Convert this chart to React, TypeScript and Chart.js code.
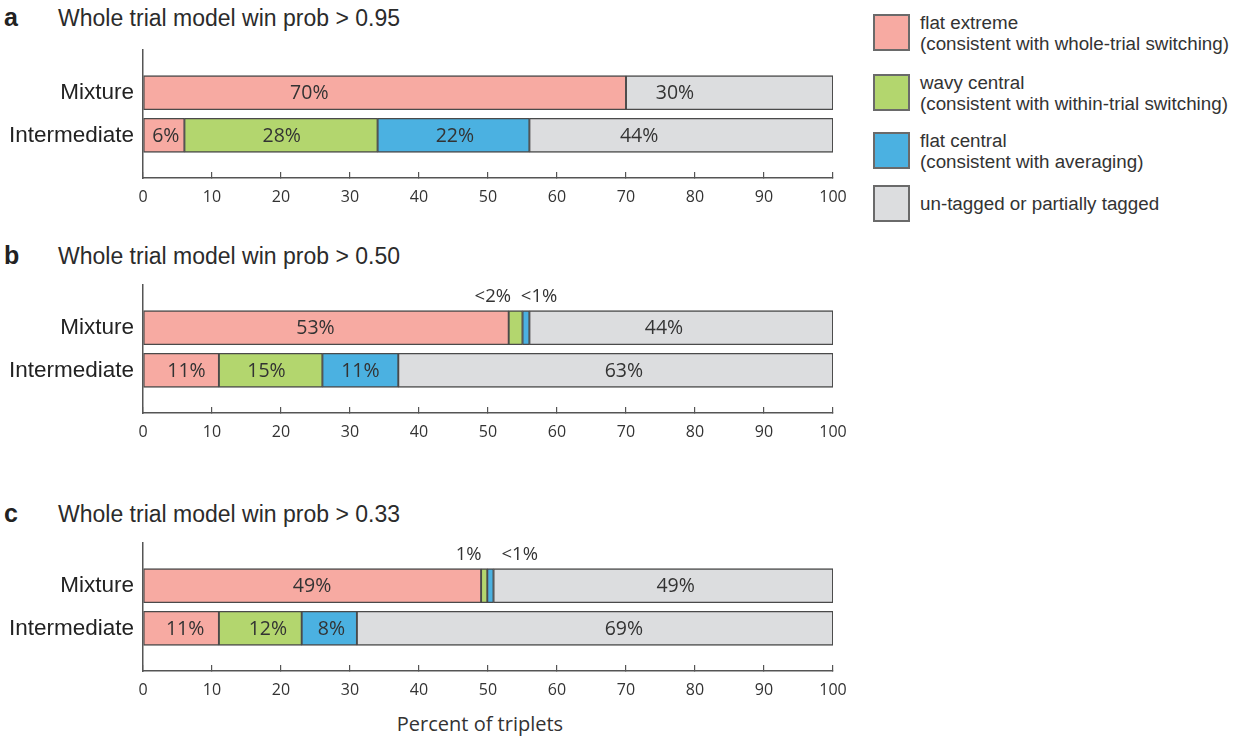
import React, { useEffect, useRef } from 'react';
import { Chart, registerables } from 'chart.js';

Chart.register(...registerables);

// ---------- data ----------
const categories = ['Mixture', 'Intermediate'];
const seriesNames = ['flat extreme', 'wavy central', 'flat central', 'un-tagged or partially tagged'];
const seriesNotes = [
  '(consistent with whole-trial switching)',
  '(consistent with within-trial switching)',
  '(consistent with averaging)',
  '',
];
const seriesColors = ['#F7AAA2', '#B3D66E', '#4BB1E1', '#DCDDDF'];

const panelLetters = ['a', 'b', 'c'];
const panelTitles = [
  'Whole trial model win prob > 0.95',
  'Whole trial model win prob > 0.50',
  'Whole trial model win prob > 0.33',
];

const xTickMin = 0;
const xTickMax = 100;
const xTickStep = 10;
const xAxisTitle = 'Percent of triplets';

// percent of triplets per series: [flat extreme, wavy central, flat central, un-tagged]
const panelAMixture = [70, 0, 0, 30];
const panelAIntermediate = [6, 28, 22, 44];
const panelBMixture = [53, 2, 1, 44];
const panelBIntermediate = [11, 15, 11, 63];
const panelCMixture = [49, 0.9, 0.9, 49.2];
const panelCIntermediate = [11, 12, 8, 69];

// text printed in each segment
const panelAMixtureLabels = ['70%', '', '', '30%'];
const panelAIntermediateLabels = ['6%', '28%', '22%', '44%'];
const panelBMixtureLabels = ['53%', '', '', '44%'];
const panelBIntermediateLabels = ['11%', '15%', '11%', '63%'];
const panelCMixtureLabels = ['49%', '', '', '49%'];
const panelCIntermediateLabels = ['11%', '12%', '8%', '69%'];

// where (in percent) each segment label is anchored
const panelAMixtureLabelAt = [24.1, null, null, 77.1];
const panelAIntermediateLabelAt = [3.3, 20.1, 45.2, 71.9];
const panelBMixtureLabelAt = [25, null, null, 75.5];
const panelBIntermediateLabelAt = [6.3, 17.9, 31.5, 69.7];
const panelCMixtureLabelAt = [24.5, null, null, 77.2];
const panelCIntermediateLabelAt = [6.1, 18.1, 27.3, 69.7];

// call-outs above the Mixture bar (text, anchor in percent)
const panelACallouts: { text: string; at: number }[] = [];
const panelBCallouts = [
  { text: '<2%', at: 50.7 },
  { text: '<1%', at: 57.4 },
];
const panelCCallouts = [
  { text: '1%', at: 47.2 },
  { text: '<1%', at: 54.6 },
];

const panels = [
  {
    rows: [panelAMixture, panelAIntermediate],
    labels: [panelAMixtureLabels, panelAIntermediateLabels],
    labelAt: [panelAMixtureLabelAt, panelAIntermediateLabelAt],
    callouts: panelACallouts,
  },
  {
    rows: [panelBMixture, panelBIntermediate],
    labels: [panelBMixtureLabels, panelBIntermediateLabels],
    labelAt: [panelBMixtureLabelAt, panelBIntermediateLabelAt],
    callouts: panelBCallouts,
  },
  {
    rows: [panelCMixture, panelCIntermediate],
    labels: [panelCMixtureLabels, panelCIntermediateLabels],
    labelAt: [panelCMixtureLabelAt, panelCIntermediateLabelAt],
    callouts: panelCCallouts,
  },
];

// ---------- layout ----------
const CANVAS_W = 860;
const CANVAS_H = 175;
const PAD_TOP = 10;
const PLOT_H = 128;
const AXIS_LEFT = 143;
const AXIS_RIGHT = 833;
const panelCanvasTops = [40, 275, 533];
const titleBaselines = [26, 264, 522];

const TEXT = '#2b2b2b';
const AXIS = '#555555';
const BAR_BORDER = '#4a4a4a';

function Panel({ index }: { index: number }) {
  const ref = useRef<HTMLCanvasElement | null>(null);
  useEffect(() => {
    const p = panels[index];
    const labels = ['', ...categories, ''];
    const datasets = seriesNames.map((name, s) => ({
      label: name,
      data: [null, ...p.rows.map((r) => (r[s] ? r[s] : null)), null],
      backgroundColor: seriesColors[s],
      borderColor: BAR_BORDER,
      borderWidth: 1.3,
      borderSkipped: false as const,
      barThickness: 34,
    }));

    const segLabels = {
      id: 'segLabels',
      afterDatasetsDraw(chart: any) {
        const ctx = chart.ctx;
        const xs = chart.scales.x;
        const ys = chart.scales.y;
        ctx.save();
        ctx.fillStyle = '#333333';
        ctx.textAlign = 'center';
        ctx.textBaseline = 'middle';
        ctx.font = '19.5px "Open Sans"';
        p.labels.forEach((row, c) => {
          const yPix = ys.getPixelForValue(c + 1);
          row.forEach((t, s) => {
            const at = p.labelAt[c][s];
            if (!t || at == null) return;
            ctx.fillText(t, xs.getPixelForValue(at), yPix + 1);
          });
        });
        ctx.font = '18.5px "Open Sans"';
        const yMix = ys.getPixelForValue(1);
        p.callouts.forEach((co) => {
          ctx.fillText(co.text, xs.getPixelForValue(co.at), yMix - 31);
        });
        ctx.restore();
      },
    };

    const chart = new Chart(ref.current as HTMLCanvasElement, {
      type: 'bar',
      data: { labels, datasets: datasets as any },
      options: {
        indexAxis: 'y',
        responsive: false,
        maintainAspectRatio: false,
        animation: false,
        layout: { padding: { top: PAD_TOP, right: CANVAS_W - AXIS_RIGHT, left: 0, bottom: 0 } },
        plugins: { legend: { display: false }, tooltip: { enabled: false } },
        scales: {
          x: {
            type: 'linear',
            min: xTickMin,
            max: xTickMax,
            stacked: true,
            ticks: {
              stepSize: xTickStep,
              font: { family: 'Open Sans', size: 16 },
              color: '#333333',
              padding: 16,
            },
            grid: {
              drawOnChartArea: false,
              drawTicks: true,
              tickLength: -6,
              color: AXIS,
              lineWidth: 1.2,
            },
            border: { color: AXIS, width: 1.5 },
            afterFit: (s: any) => {
              s.height = CANVAS_H - PAD_TOP - PLOT_H;
              s.paddingLeft = 0;
              s.paddingRight = 0;
            },
          },
          y: {
            type: 'category',
            stacked: true,
            offset: false,
            grid: { display: false, drawTicks: false },
            border: { color: AXIS, width: 1.5 },
            ticks: {
              autoSkip: false,
              font: { family: 'Liberation Sans', size: 22.5 },
              color: '#222222',
              padding: 9,
            },
            afterFit: (s: any) => {
              s.width = AXIS_LEFT;
              s.paddingTop = 0;
              s.paddingBottom = 0;
            },
          },
        },
      } as any,
      plugins: [segLabels],
    });
    return () => chart.destroy();
  }, [index]);

  return (
    <canvas
      ref={ref}
      width={CANVAS_W}
      height={CANVAS_H}
      style={{ position: 'absolute', left: 0, top: panelCanvasTops[index], width: CANVAS_W, height: CANVAS_H }}
    />
  );
}

export default function App() {
  const legendTops = [14, 74, 132, 185];
  return (
    <div
      style={{
        position: 'absolute',
        left: 0,
        top: 0,
        width: 1242,
        height: 740,
        background: '#ffffff',
        fontFamily: '"Liberation Sans", Arial, sans-serif',
        color: TEXT,
        overflow: 'hidden',
      }}
    >
      {panelLetters.map((l, i) => (
        <React.Fragment key={l}>
          <div
            style={{
              position: 'absolute',
              left: 4,
              top: titleBaselines[i] - 0.8465 * 25,
              fontSize: 25,
              lineHeight: 1,
              fontWeight: 'bold',
              color: '#222',
            }}
          >
            {l}
          </div>
          <div
            style={{
              position: 'absolute',
              left: 58,
              top: titleBaselines[i] - 0.8465 * 23,
              fontSize: 23,
              lineHeight: 1,
              whiteSpace: 'nowrap',
              color: '#2b2b2b',
            }}
          >
            {panelTitles[i]}
          </div>
        </React.Fragment>
      ))}

      {[0, 1, 2].map((i) => (
        <Panel key={i} index={i} />
      ))}

      <div
        style={{
          position: 'absolute',
          left: 380,
          width: 200,
          top: 732 - 0.8 * 20 - 6,
          textAlign: 'center',
          fontFamily: '"Open Sans", sans-serif',
          fontSize: 20,
          lineHeight: '28px',
          color: '#333',
          whiteSpace: 'nowrap',
        }}
      >
        {xAxisTitle}
      </div>

      {seriesNames.map((name, s) => (
        <div
          key={name}
          style={{
            position: 'absolute',
            left: 873,
            top: legendTops[s],
            height: 37,
            display: 'flex',
            alignItems: 'center',
          }}
        >
          <div
            style={{
              width: 37,
              height: 37,
              boxSizing: 'border-box',
              border: '2px solid #6a6a6a',
              background: seriesColors[s],
              flex: 'none',
            }}
          />
          <div
            style={{
              marginLeft: 10,
              fontSize: 18.8,
              lineHeight: '21px',
              whiteSpace: 'nowrap',
              color: '#333',
            }}
          >
            <div>{name}</div>
            {seriesNotes[s] ? <div>{seriesNotes[s]}</div> : null}
          </div>
        </div>
      ))}
    </div>
  );
}
